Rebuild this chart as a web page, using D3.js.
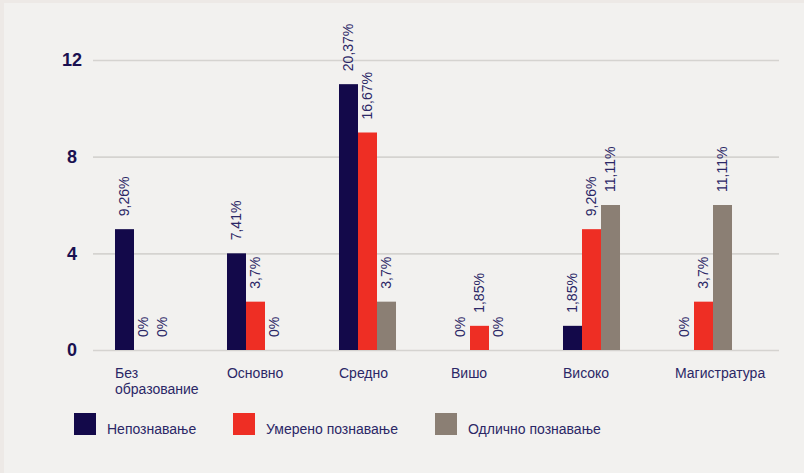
<!DOCTYPE html>
<html>
<head>
<meta charset="utf-8">
<script src="https://cdn.jsdelivr.net/npm/d3@7"></script>
<style>
  html, body { margin: 0; padding: 0; background: #ede9e6; }
  svg { display: block; font-family: "Liberation Sans", Arial, sans-serif; }
</style>
</head>
<body>
<svg id="chart" width="804" height="473"></svg>
<script>
// Education levels (category axis)
const categories = [
  ["Без", "образование"],
  ["Основно"],
  ["Средно"],
  ["Вишо"],
  ["Високо"],
  ["Магистратура"]
];

// Series names shown in the legend
const seriesNames = ["Непознавање", "Умерено познавање", "Одлично познавање"];

// Counts per education level, one array per series
const nepoznavanje = [5, 4, 11, 0, 1, 0];
const umereno      = [0, 2, 9, 1, 5, 2];
const odlicno      = [0, 0, 2, 0, 6, 6];

// Share of all respondents, printed above each bar
const nepoznavanjePct = ["9,26%", "7,41%", "20,37%", "0%", "1,85%", "0%"];
const umerenoPct      = ["0%", "3,7%", "16,67%", "1,85%", "9,26%", "3,7%"];
const odlicnoPct      = ["0%", "0%", "3,7%", "0%", "11,11%", "11,11%"];

const yTicks = [0, 4, 8, 12];

const colors = ["#13094a", "#ee2e24", "#8b7f74"];
const textColor = "#2b2766";

const series = [
  { name: seriesNames[0], values: nepoznavanje, labels: nepoznavanjePct },
  { name: seriesNames[1], values: umereno, labels: umerenoPct },
  { name: seriesNames[2], values: odlicno, labels: odlicnoPct }
];

const svg = d3.select("#chart");

// panel background
svg.append("rect")
  .attr("x", 4).attr("y", 3)
  .attr("width", 800).attr("height", 470)
  .attr("fill", "#f2f1ef");

const y = d3.scaleLinear().domain([0, 12]).range([350, 60]);

const x0 = d3.scaleBand()
  .domain(d3.range(categories.length))
  .range([87.5, 759.5])
  .paddingInner(0.491)
  .paddingOuter(0.2455);

const x1 = d3.scaleBand()
  .domain(d3.range(series.length))
  .range([0, x0.bandwidth()]);

// horizontal gridlines with bold tick labels
const yAxis = d3.axisLeft(y).tickValues(yTicks).tickSize(-(779 - 93)).tickPadding(0);
const gy = svg.append("g").attr("transform", "translate(93,0)").call(yAxis);
gy.select(".domain").remove();
gy.selectAll(".tick line").attr("stroke", "#d5d3d0").attr("stroke-width", 1.6);
gy.selectAll(".tick text")
  .attr("x", -21)
  .attr("text-anchor", "middle")
  .attr("fill", "#1a1050")
  .attr("font-size", 18)
  .attr("font-weight", "bold")
  .attr("font-family", "'Liberation Sans', Arial, sans-serif");

// bars
const groups = svg.append("g").selectAll("g")
  .data(categories.map((c, i) => i))
  .join("g")
  .attr("transform", i => `translate(${x0(i)},0)`);

groups.selectAll("rect")
  .data(i => series.map((s, k) => ({ k, v: s.values[i] })))
  .join("rect")
  .attr("x", d => x1(d.k))
  .attr("width", x1.bandwidth())
  .attr("y", d => y(d.v))
  .attr("height", d => y(0) - y(d.v))
  .attr("fill", d => colors[d.k]);

// rotated percentage labels
groups.selectAll("text.val")
  .data(i => series.map((s, k) => ({ k, v: s.values[i], t: s.labels[i] })))
  .join("text")
  .attr("class", "val")
  .attr("transform", d => `translate(${x1(d.k) + x1.bandwidth() / 2},${y(d.v) - 13}) rotate(-90)`)
  .attr("dy", "0.35em")
  .attr("text-anchor", "start")
  .attr("font-size", 14)
  .attr("fill", textColor)
  .text(d => d.t);

// category labels, left-aligned with each group
const xl = svg.append("g").selectAll("text")
  .data(categories.map((c, i) => ({ c, i })))
  .join("text")
  .attr("x", d => x0(d.i))
  .attr("y", 378)
  .attr("font-size", 14)
  .attr("fill", textColor);
xl.selectAll("tspan")
  .data(d => d.c.map(line => ({ line, x: x0(d.i) })))
  .join("tspan")
  .attr("x", d => d.x)
  .attr("dy", (d, j) => j === 0 ? 0 : 16)
  .text(d => d.line);

// legend
const legendX = [74, 233, 435];
const legend = svg.append("g").selectAll("g")
  .data(series.map((s, k) => k))
  .join("g")
  .attr("transform", k => `translate(${legendX[k]},413)`);
legend.append("rect")
  .attr("width", 22).attr("height", 22)
  .attr("fill", k => colors[k]);
legend.append("text")
  .attr("x", 33).attr("y", 21)
  .attr("font-size", 14)
  .attr("fill", textColor)
  .text(k => seriesNames[k]);
</script>
</body>
</html>
